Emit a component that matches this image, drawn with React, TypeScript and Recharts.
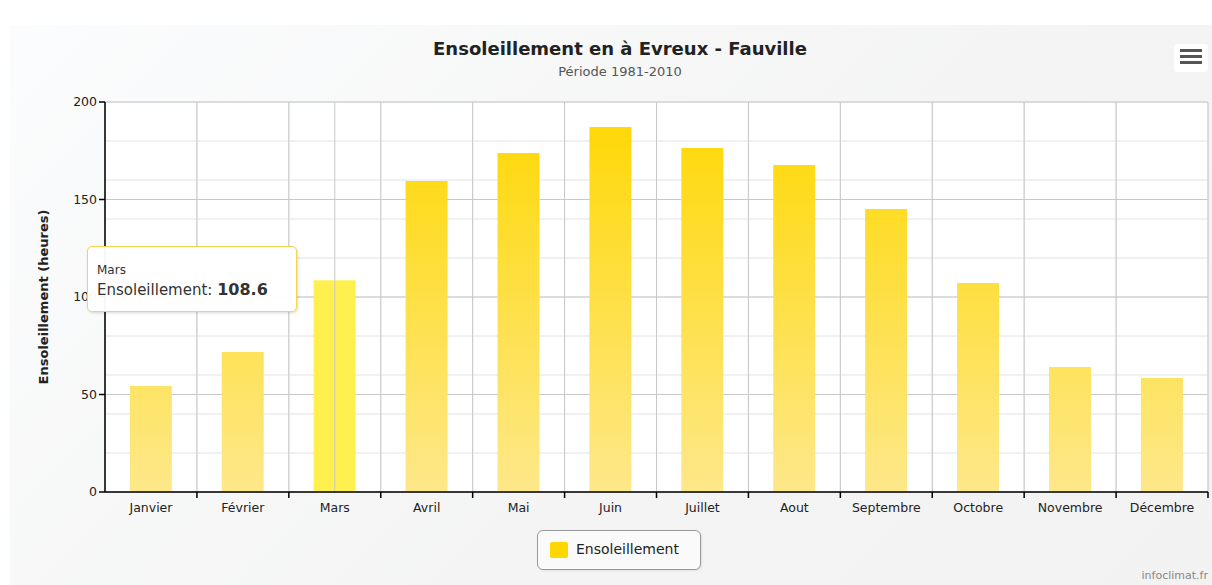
import React from 'react';
import { BarChart, Bar, XAxis, YAxis, CartesianGrid, Tooltip, ReferenceLine, Cell } from 'recharts';

const months = ['Janvier', 'Février', 'Mars', 'Avril', 'Mai', 'Juin', 'Juillet', 'Aout', 'Septembre', 'Octobre', 'Novembre', 'Décembre'];
const sunshine = [54.4, 71.8, 108.6, 159.5, 173.8, 187.2, 176.4, 167.7, 145.1, 107.2, 64.1, 58.5];
const yTicks = [0, 50, 100, 150, 200];
const yMinor = [0, 10, 20, 30, 40, 50, 60, 70, 80, 90, 100, 110, 120, 130, 140, 150, 160, 170, 180, 190, 200];
const hoveredIndex = 2;

const data = months.map((m, i) => ({ month: m, value: sunshine[i] }));

const W = 1212;
const H = 585;
const PLOT_LEFT = 105;
const PLOT_RIGHT = 1208;
const PLOT_TOP = 102;
const PLOT_BOTTOM = 492;
const Y_AXIS_W = 60;
const X_AXIS_H = 30;
const FONT = '"DejaVu Sans", sans-serif';

const XTick = (props: any) => {
  const { x, y, payload } = props;
  const half = (PLOT_RIGHT - PLOT_LEFT) / months.length / 2;
  return (
    <g>
      <line x1={x + half} y1={y - 8} x2={x + half} y2={y - 2} stroke="#000" strokeWidth={1.5} />
      <text x={x} y={y + 12} textAnchor="middle" fontSize={12.5} fontFamily={FONT} fill="#222">{payload.value}</text>
    </g>
  );
};

const TooltipBox = (props: any) => {
  const { payload, label } = props;
  if (!payload || !payload.length) return null;
  return (
    <div style={{
      background: 'rgba(255,255,255,0.96)', border: '1.5px solid #F2D64B', borderRadius: 5,
      boxShadow: '1px 1px 3px rgba(0,0,0,0.15)', width: 210, height: 66, boxSizing: 'border-box',
      padding: '15px 0 0 9px', fontFamily: FONT, color: '#333'
    }}>
      <div style={{ fontSize: 12, lineHeight: '16px' }}>{label}</div>
      <div style={{ fontSize: 15, lineHeight: '24px', whiteSpace: 'nowrap' }}>
        Ensoleillement: <b style={{ fontSize: 16 }}>{payload[0].value}</b>
      </div>
    </div>
  );
};

export default function App() {
  return (
    <div style={{ position: 'absolute', left: 0, top: 0, width: W, height: H, background: '#fff', overflow: 'hidden', fontFamily: FONT }}>
      <div style={{ position: 'absolute', left: 10, top: 25, width: W - 10, height: H - 25, background: 'linear-gradient(135deg, #fbfcfd 0%, #f4f4f4 60%, #f2f2f2 100%)' }} />
      <div style={{ position: 'absolute', left: PLOT_LEFT, top: PLOT_TOP, width: PLOT_RIGHT - PLOT_LEFT, height: PLOT_BOTTOM - PLOT_TOP, background: '#fff' }} />
      <div style={{ position: 'absolute', left: 0, width: 1240, top: 38, textAlign: 'center', fontSize: 18, fontWeight: 'bold', color: '#222' }}>Ensoleillement en à Evreux - Fauville</div>
      <div style={{ position: 'absolute', left: 0, width: 1240, top: 64, textAlign: 'center', fontSize: 13, color: '#555' }}>Période 1981-2010</div>
      <div style={{ position: 'absolute', left: 1174, top: 44, width: 34, height: 28, background: '#fff', borderRadius: 3 }}>
        <div style={{ position: 'absolute', left: 6, top: 5, width: 22, height: 3, background: '#555' }} />
        <div style={{ position: 'absolute', left: 6, top: 11, width: 22, height: 3, background: '#555' }} />
        <div style={{ position: 'absolute', left: 6, top: 17, width: 22, height: 3, background: '#555' }} />
      </div>
      <div style={{ position: 'absolute', left: 0, top: 0 }}>
        <BarChart
          width={W}
          height={H}
          data={data}
          margin={{ top: PLOT_TOP, right: W - PLOT_RIGHT, bottom: H - PLOT_BOTTOM - X_AXIS_H, left: PLOT_LEFT - Y_AXIS_W }}
          barCategoryGap="27%"
        >
          <defs>
            <linearGradient id="sunGrad" gradientUnits="userSpaceOnUse" x1="0" y1={PLOT_TOP} x2="0" y2={PLOT_BOTTOM}>
              <stop offset="0%" stopColor="#FFD700" />
              <stop offset="100%" stopColor="#FDE88A" />
            </linearGradient>
          </defs>
          <CartesianGrid
            stroke="#E2E2E2"
            horizontalValues={yMinor}
            verticalCoordinatesGenerator={({ offset }: any) =>
              months.map((_, i) => offset.left + (i * offset.width) / months.length).concat([offset.left + offset.width])
            }
            verticalFill={[]}
          />
          <CartesianGrid stroke="#C8C8C8" horizontalValues={yTicks} vertical={false} />
          <CartesianGrid
            stroke="#C8C8C8"
            horizontal={false}
            verticalCoordinatesGenerator={({ offset }: any) =>
              months.map((_, i) => offset.left + (i * offset.width) / months.length).concat([offset.left + offset.width])
            }
          />
          <XAxis
            dataKey="month"
            height={X_AXIS_H}
            axisLine={{ stroke: '#000', strokeWidth: 1.5 }}
            tickLine={false}
            tick={<XTick />}
            interval={0}
          />
          <YAxis
            width={Y_AXIS_W}
            domain={[0, 200]}
            ticks={yTicks}
            axisLine={{ stroke: '#000', strokeWidth: 1.5 }}
            tickLine={{ stroke: '#000', strokeWidth: 1.5 }}
            tickSize={6}
            tick={{ fontSize: 12.5, fill: '#222', fontFamily: FONT }}
            label={{ value: 'Ensoleillement (heures)', angle: -90, position: 'insideLeft', offset: -2, style: { textAnchor: 'middle', fontSize: 13, fontWeight: 'bold', fill: '#222', fontFamily: FONT } }}
          />
          <ReferenceLine x={months[hoveredIndex]} stroke="#C8C8C8" strokeWidth={1} />
          <Bar dataKey="value" isAnimationActive={false} fill="url(#sunGrad)">
            {data.map((d, i) => (
              <Cell key={d.month} fill={i === hoveredIndex ? '#FFF050' : 'url(#sunGrad)'} />
            ))}
          </Bar>
          <Tooltip
            content={<TooltipBox />}
            defaultIndex={hoveredIndex}
            active={true}
            cursor={false}
            position={{ x: 87, y: 246 }}
            isAnimationActive={false}
            wrapperStyle={{ outline: 'none' }}
          />
        </BarChart>
      </div>
      <div style={{ position: 'absolute', left: 537, top: 530, width: 164, height: 40, boxSizing: 'border-box', border: '1px solid #999', borderRadius: 6, background: '#fafafa', boxShadow: '1px 1px 2px rgba(0,0,0,0.08)' }}>
        <div style={{ position: 'absolute', left: 12, top: 11, width: 18, height: 16, background: '#FFD700', borderRadius: 2 }} />
        <div style={{ position: 'absolute', left: 38, top: 10, fontSize: 14, color: '#222' }}>Ensoleillement</div>
      </div>
      <div style={{ position: 'absolute', right: 4, top: 569, fontSize: 11, color: '#888' }}>infoclimat.fr</div>
    </div>
  );
}
